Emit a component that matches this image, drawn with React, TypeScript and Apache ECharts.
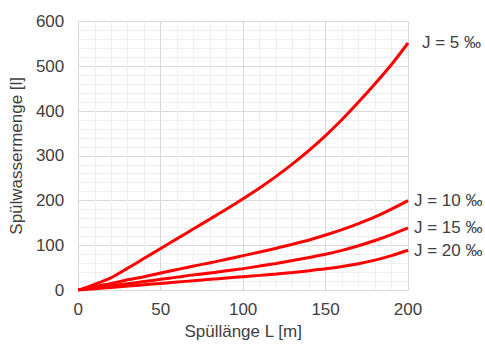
import React, { useEffect, useRef } from "react";
import * as echarts from "echarts";

const lengths = [0, 10, 20, 30, 40, 50, 60, 70, 80, 90, 100, 110, 120, 130, 140, 150, 160, 170, 180, 190, 200];
const j5 = [0, 13, 28, 49, 71, 93, 115, 137, 159, 181, 204, 228, 254, 282, 312, 345, 381, 420, 461, 504, 552];
const j10 = [0, 8, 15, 23, 30, 38, 46, 54, 61, 69, 77, 85, 93.5, 102.5, 112, 123, 135, 148.5, 163.5, 181, 200];
const j15 = [0, 5, 10, 14, 19, 24, 29, 34, 38, 43, 48, 53.6, 59.6, 66, 72.8, 80, 88.8, 99, 110.8, 124, 139];
const j20 = [0, 3, 6, 9, 12, 15, 18, 21, 24, 27, 30, 32.9, 36, 39.4, 43.2, 47.5, 52.7, 59, 67, 77, 89];
const seriesNames = ["J = 5 ‰", "J = 10 ‰", "J = 15 ‰", "J = 20 ‰"];
const seriesValues = [j5, j10, j15, j20];
const labelDistances = [14, 6, 6, 6];

const FONT = "Liberation Sans, Arial, sans-serif";
const TEXT = "#404040";

export default function App() {
  const ref = useRef<HTMLDivElement>(null);
  useEffect(() => {
    document.body.style.margin = "0";
    const chart = echarts.init(ref.current!, null, { renderer: "svg" });
    chart.setOption({
      animation: false,
      grid: { left: 77, right: 77, top: 21.5, bottom: 52, show: false },
      xAxis: {
        type: "value",
        min: 0,
        max: 200,
        interval: 50,
        name: "Spüllänge L [m]",
        nameLocation: "middle",
        nameGap: 32,
        nameTextStyle: { color: TEXT, fontSize: 17, fontFamily: FONT },
        axisLine: { show: true, lineStyle: { color: "#d9d9d9", width: 1 } },
        axisTick: { show: false },
        axisLabel: { color: TEXT, fontSize: 17, fontFamily: FONT, margin: 11 },
        splitLine: { show: true, lineStyle: { color: "#d9d9d9", width: 1 } },
        minorTick: { show: false, splitNumber: 5 },
        minorSplitLine: { show: true, lineStyle: { color: "#f0f0f0", width: 1 } },
      },
      yAxis: {
        type: "value",
        min: 0,
        max: 600,
        interval: 100,
        name: "Spülwassermenge [l]",
        nameLocation: "middle",
        nameGap: 50,
        nameTextStyle: { color: TEXT, fontSize: 17, fontFamily: FONT },
        axisLine: { show: true, lineStyle: { color: "#d9d9d9", width: 1 } },
        axisTick: { show: false },
        axisLabel: { color: TEXT, fontSize: 17, fontFamily: FONT, margin: 14 },
        splitLine: { show: true, lineStyle: { color: "#d9d9d9", width: 1 } },
        minorTick: { show: false, splitNumber: 5 },
        minorSplitLine: { show: true, lineStyle: { color: "#f0f0f0", width: 1 } },
      },
      series: seriesNames.map((name, i) => ({
        name,
        type: "line",
        data: lengths.map((x, k) => [x, seriesValues[i][k]]),
        showSymbol: false,
        smooth: 0.3,
        lineStyle: { color: "#ff0000", width: 3 },
        itemStyle: { color: "#ff0000" },
        endLabel: {
          show: true,
          formatter: name,
          distance: labelDistances[i],
          color: TEXT,
          fontSize: 17,
          fontFamily: FONT,
        },
      })),
    });
    return () => chart.dispose();
  }, []);
  return <div ref={ref} style={{ width: 485, height: 345, position: "absolute", left: 0, top: 0 }} />;
}
